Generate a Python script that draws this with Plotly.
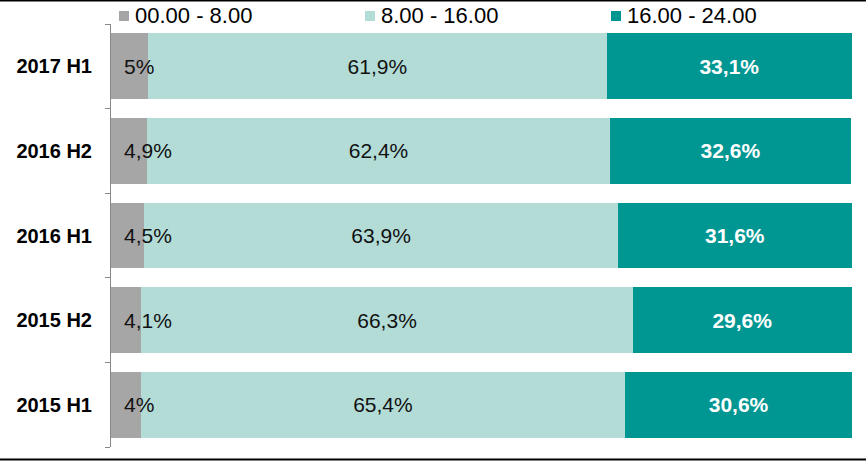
import plotly.graph_objects as go

categories = ["2015 H1", "2015 H2", "2016 H1", "2016 H2", "2017 H1"]
night = [4, 4.1, 4.5, 4.9, 5]
day = [65.4, 66.3, 63.9, 62.4, 61.9]
evening = [30.6, 29.6, 31.6, 32.6, 33.1]
series_names = ["00.00 - 8.00", "8.00 - 16.00", "16.00 - 24.00"]

def fmt(v):
    s = ("%g" % v).replace(".", ",")
    return s + "%"

FONT = "Liberation Sans, Arial, sans-serif"
colors = ["#A6A6A6", "#B3DCD7", "#009692"]

W, H = 866, 461
ml, mr, mt, mb = 111, 14, 24, 14
pw = W - ml - mr
ph = H - mt - mb
def px2x(px):
    return (px - ml) / pw
def px2y(py):
    return (H - mb - py) / ph

fig = go.Figure()
fig.add_trace(go.Bar(y=categories, x=night, name=series_names[0], orientation="h",
                     marker=dict(color=colors[0], line=dict(width=0))))
fig.add_trace(go.Bar(y=categories, x=day, name=series_names[1], orientation="h",
                     marker=dict(color=colors[1], line=dict(width=0)),
                     text=[fmt(v) for v in day], textposition="inside",
                     insidetextanchor="middle", constraintext="none",
                     textfont=dict(family=FONT, size=21, color="#111111")))
fig.add_trace(go.Bar(y=categories, x=evening, name=series_names[2], orientation="h",
                     marker=dict(color=colors[2], line=dict(width=0)),
                     text=[fmt(v) for v in evening], textposition="inside",
                     insidetextanchor="middle", constraintext="none",
                     textfont=dict(family=FONT, size=21, color="white", weight="bold")))

annotations = []
for c, v in zip(categories, night):
    annotations.append(dict(x=0, y=c, xref="x", yref="y", text=fmt(v), showarrow=False,
                            xanchor="left", xshift=11,
                            font=dict(family=FONT, size=21, color="#111111")))

shapes = [
    dict(type="line", xref="paper", yref="paper", x0=px2x(0), x1=px2x(W),
         y0=px2y(0.5), y1=px2y(0.5), line=dict(color="black", width=2)),
    dict(type="line", xref="paper", yref="paper", x0=px2x(0), x1=px2x(W),
         y0=px2y(459.5), y1=px2y(459.5), line=dict(color="black", width=2)),
]

# manual legend
legend_x = [119, 365, 611]
for name, col, lx in zip(series_names, colors, legend_x):
    shapes.append(dict(type="rect", xref="paper", yref="paper",
                       x0=px2x(lx), x1=px2x(lx + 10), y0=px2y(21), y1=px2y(11),
                       fillcolor=col, line=dict(width=0)))
    annotations.append(dict(x=px2x(lx + 14), y=px2y(15.5), xref="paper", yref="paper",
                            text=name, showarrow=False, xanchor="left", yanchor="middle",
                            font=dict(family=FONT, size=22, color="black")))

fig.update_layout(
    barmode="stack",
    bargap=0.22,
    width=W, height=H,
    margin=dict(l=ml, r=mr, t=mt, b=mb, autoexpand=False),
    paper_bgcolor="white", plot_bgcolor="white",
    font=dict(family=FONT, color="black"),
    showlegend=False,
    hovermode=False,
    xaxis=dict(range=[0, 100], visible=False, fixedrange=True),
    yaxis=dict(type="category", categoryorder="array", categoryarray=categories,
               tickson="boundaries", ticks="outside", ticklen=5, tickcolor="#888888",
               showline=True, linecolor="#888888", linewidth=1,
               ticklabelstandoff=14, automargin=False,
               tickfont=dict(family=FONT, size=20, color="black", weight="bold"),
               showgrid=False, fixedrange=True),
    annotations=annotations,
    shapes=shapes,
)

fig.write_html("out.html", config={"displayModeBar": False, "staticPlot": True},
               post_script="document.body.style.margin='0';document.body.style.overflow='hidden';")
